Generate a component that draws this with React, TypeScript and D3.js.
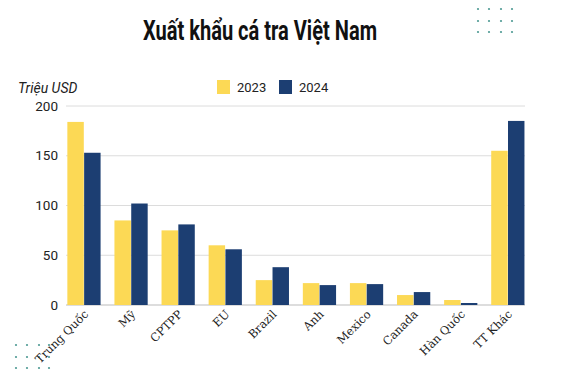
import React from "react";
import * as d3 from "d3";

const categories = ["Trung Quốc", "Mỹ", "CPTPP", "EU", "Brazil", "Anh", "Mexico", "Canada", "Hàn Quốc", "TT Khác"];
const values2023 = [184, 85, 75, 60, 25, 22, 22, 10, 5, 155];
const values2024 = [153, 102, 81, 56, 38, 20, 21, 13, 2, 185];
const seriesNames = ["2023", "2024"];
const yTicks = [0, 50, 100, 150, 200];
const colors = ["#FCD955", "#1C3E72"];

export default function App() {
  const W = 567, H = 379;
  const x = d3.scaleBand<string>().domain(categories).range([62.3, 529.5]).paddingInner(0.28).paddingOuter(0.1);
  const x1 = d3.scaleBand<string>().domain(seriesNames).range([0, x.bandwidth()]).padding(0.02);
  const y = d3.scaleLinear().domain([0, 200]).range([305, 106]);
  const series = [values2023, values2024];
  const dotsTR: [number, number][] = [];
  for (const yy of [9, 21, 32]) for (const xx of [478, 489, 501, 512]) dotsTR.push([xx, yy]);
  const dotsBL: [number, number][] = [];
  for (const yy of [345, 357, 368]) for (const xx of [16, 27, 39, 49]) dotsBL.push([xx, yy]);
  return (
    <svg width={W} height={H} style={{ position: "absolute", left: 0, top: 0, background: "#fff" }}>
      <rect width={W} height={H} fill="#fff" />
      {dotsTR.map(([a, b], i) => <circle key={"t" + i} cx={a} cy={b} r={1.1} fill="#4E9A94" />)}
      {dotsBL.map(([a, b], i) => <circle key={"b" + i} cx={a} cy={b} r={1.1} fill="#4E9A94" />)}
      <text x={143} y={40} fontFamily="Roboto" fontWeight="bold" fontSize={27} fill="#111" textLength={234} lengthAdjust="spacingAndGlyphs">Xuất khẩu cá tra Việt Nam</text>
      <text x={18} y={93} fontFamily="Roboto" fontStyle="italic" fontSize={14} fill="#222">Triệu USD</text>
      {seriesNames.map((s, i) => (
        <g key={s} transform={`translate(${217 + i * 62},80)`}>
          <rect width={13} height={14} fill={colors[i]} />
          <text x={20} y={12} fontFamily="Roboto" fontSize={13} fill="#222">{s}</text>
        </g>
      ))}
      {yTicks.map(t => (
        <g key={t}>
          <line x1={66} x2={525} y1={y(t)} y2={y(t)} stroke={t === 0 ? "#bbb" : "#dcdcdc"} strokeWidth={1} />
          <text x={58} y={y(t) + 4.5} textAnchor="end" fontFamily="Roboto" fontSize={13.5} fill="#222">{t}</text>
        </g>
      ))}
      {categories.map((c, ci) => (
        <g key={c} transform={`translate(${x(c)},0)`}>
          {series.map((vals, si) => (
            <rect key={si} x={x1(seriesNames[si])} width={x1.bandwidth()} y={y(vals[ci])} height={y(0) - y(vals[ci])} fill={colors[si]} />
          ))}
        </g>
      ))}
      {categories.map(c => {
        const cx = (x(c) as number) + x.bandwidth() / 2;
        return (
          <text key={c} transform={`translate(${cx + 5},${315}) rotate(-45)`} textAnchor="end" fontFamily="DejaVu Serif" fontSize={11.5} fill="#222">{c}</text>
        );
      })}
    </svg>
  );
}
